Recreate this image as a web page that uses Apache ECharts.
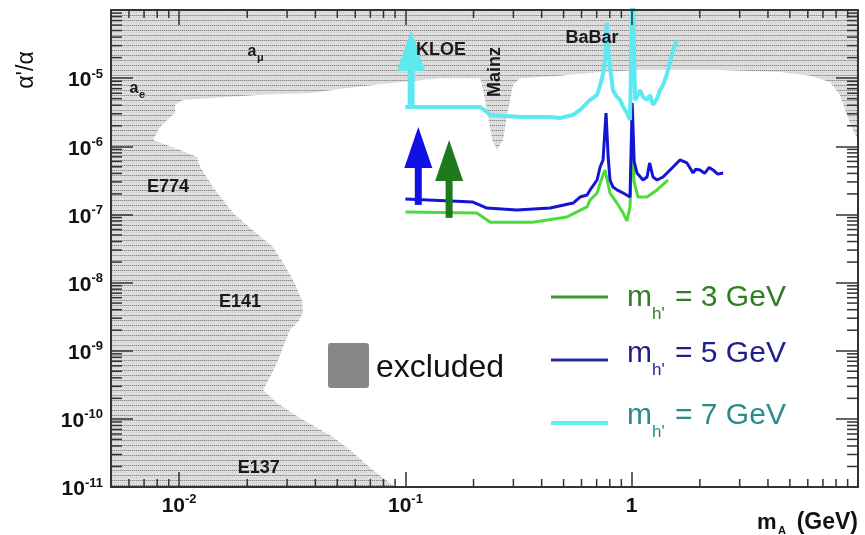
<!DOCTYPE html>
<html>
<head>
<meta charset="utf-8">
<script src="https://cdn.jsdelivr.net/npm/echarts@6/dist/echarts.min.js"></script>
<style>
html, body { margin: 0; padding: 0; background: #fff; }
#chart { width: 865px; height: 535px; }
</style>
</head>
<body>
<div id="chart"></div>
<script>
// axis ranges
const xMin = 0.005, xMax = 10;
const yMin = 1e-11, yMax = 1e-4;

// minor tick values (2..9 in every decade)
const minorX = [0.006, 0.007, 0.008, 0.009,
  0.02, 0.03, 0.04, 0.05, 0.06, 0.07, 0.08, 0.09,
  0.2, 0.3, 0.4, 0.5, 0.6, 0.7, 0.8, 0.9,
  2, 3, 4, 5, 6, 7, 8, 9];
const minorY = [2e-11, 3e-11, 4e-11, 5e-11, 6e-11, 7e-11, 8e-11, 9e-11,
  2e-10, 3e-10, 4e-10, 5e-10, 6e-10, 7e-10, 8e-10, 9e-10,
  2e-9, 3e-9, 4e-9, 5e-9, 6e-9, 7e-9, 8e-9, 9e-9,
  2e-8, 3e-8, 4e-8, 5e-8, 6e-8, 7e-8, 8e-8, 9e-8,
  2e-7, 3e-7, 4e-7, 5e-7, 6e-7, 7e-7, 8e-7, 9e-7,
  2e-6, 3e-6, 4e-6, 5e-6, 6e-6, 7e-6, 8e-6, 9e-6,
  2e-5, 3e-5, 4e-5, 5e-5, 6e-5, 7e-5, 8e-5, 9e-5];

// excluded region outline (top strip, BaBar/KLOE/Mainz, a_mu, a_e, E774, E141, E137)
const exclX = [0.005, 10, 10, 9.5, 8.94, 8.32, 7.52, 6.14, 4.52, 2.456, 1.634, 1.088, 0.725, 0.482,
  0.321, 0.299, 0.284, 0.270, 0.254, 0.242, 0.229, 0.218, 0.214, 0.142, 0.0947, 0.0569, 0.0379,
  0.0221, 0.0104, 0.0096, 0.0096, 0.00885, 0.00824, 0.00767, 0.0101, 0.0120, 0.0124, 0.0141,
  0.0173, 0.0216, 0.0260, 0.0288, 0.0319, 0.0349, 0.0353, 0.0335, 0.0309, 0.0288, 0.0271,
  0.0252, 0.0235, 0.0271, 0.0342, 0.0479, 0.0569, 0.0719, 0.0900, 0.005];
const exclY = [1e-4, 1e-4, 1.24e-6, 1.73e-6, 2.88e-6, 5.66e-6, 8.8e-6, 1.08e-5, 1.23e-5, 1.32e-5, 1.32e-5, 1.32e-5, 1.23e-5, 1.08e-5,
  1.0e-5, 7.9e-6, 3.41e-6, 1.24e-6, 8.8e-7, 1.24e-6, 3.41e-6, 7.9e-6, 1.0e-5, 1.0e-5, 8.8e-6, 7.2e-6, 6.05e-6,
  5.66e-6, 4.79e-6, 4.04e-6, 3.08e-6, 2.43e-6, 1.92e-6, 1.24e-6, 8.8e-7, 6.97e-7, 4.97e-7, 2.53e-7,
  1.05e-7, 5.52e-8, 3.33e-8, 1.94e-8, 1.09e-8, 5.55e-9, 3.57e-9, 2.64e-9, 2.01e-9, 1.13e-9, 6.6e-10,
  4.1e-10, 2.65e-10, 1.71e-10, 1.03e-10, 5.4e-11, 3.49e-11, 1.78e-11, 1e-11, 1e-11];

// m_h' = 3 GeV
const h3X = [0.1, 0.207, 0.237, 0.366, 0.518, 0.635, 0.655, 0.703, 0.725, 0.762, 0.802, 0.861,
  0.916, 0.953, 0.983, 1.005, 1.025, 1.066, 1.169, 1.294, 1.447];
const h3Y = [1.09e-7, 1.05e-7, 7.7e-8, 7.7e-8, 9.2e-8, 1.29e-7, 1.63e-7, 2.06e-7, 2.89e-7, 4.49e-7, 2.06e-7, 1.47e-7,
  1.05e-7, 8e-8, 1.29e-7, 1.5e-6, 3e-7, 1.8e-7, 1.8e-7, 2.29e-7, 3.2e-7];

// m_h' = 5 GeV
const h5X = [0.1, 0.199, 0.229, 0.311, 0.436, 0.551, 0.591, 0.635, 0.655, 0.703, 0.725, 0.747, 0.77,
  0.787, 0.802, 0.826, 0.861, 0.916, 0.983, 1.005, 1.025, 1.055, 1.122, 1.169, 1.2, 1.242, 1.294,
  1.375, 1.433, 1.523, 1.634, 1.754, 1.867, 1.92, 2.005, 2.1, 2.2, 2.288, 2.4, 2.535];
const h5Y = [1.69e-7, 1.52e-7, 1.24e-7, 1.16e-7, 1.24e-7, 1.47e-7, 1.8e-7, 1.93e-7, 2.29e-7, 3.2e-7, 4.97e-7, 6.3e-7, 3.08e-6,
  6.97e-7, 3.2e-7, 2.53e-7, 2.29e-7, 2.06e-7, 1.8e-7, 4.32e-6, 6e-7, 4.06e-7, 3.2e-7, 3.54e-7, 5.69e-7, 3.54e-7, 3.2e-7,
  3.54e-7, 4.06e-7, 4.97e-7, 6.3e-7, 5.69e-7, 4.06e-7, 4.6e-7, 4.49e-7, 4.0e-7, 4.9e-7, 4.49e-7, 3.9e-7, 4.06e-7];

// m_h' = 7 GeV
const h7X = [0.1, 0.214, 0.229, 0.237, 0.321, 0.436, 0.482, 0.551, 0.591, 0.655, 0.703, 0.725, 0.747,
  0.762, 0.778, 0.787, 0.802, 0.826, 0.861, 0.888, 0.916, 0.953, 0.983, 1.01, 1.035, 1.066, 1.088,
  1.122, 1.169, 1.205, 1.242, 1.294, 1.334, 1.375, 1.433, 1.523, 1.586];
const h7Y = [3.77e-6, 3.77e-6, 3.19e-6, 2.88e-6, 2.69e-6, 2.69e-6, 2.6e-6, 2.88e-6, 3.41e-6, 4.79e-6, 5.66e-6, 7.9e-6, 1.15e-5,
  1.85e-5, 6.45e-5, 2.6e-5, 1.46e-5, 6.7e-6, 5.3e-6, 4.79e-6, 3.8e-6, 3.08e-6, 2.43e-6, 3e-4, 4.79e-6, 5.66e-6, 6.7e-6,
  5.3e-6, 4.79e-6, 5.66e-6, 4.04e-6, 5.0e-6, 6.7e-6, 7.9e-6, 1.15e-5, 2.59e-5, 3.63e-5];

// arrows at the low-mass end (7, 5, 3 GeV)
const arrowX = [0.106, 0.114, 0.156];
const arrowFrom = [3.77e-6, 1.38e-7, 8.9e-8];
const arrowTo = [5.1e-5, 1.92e-6, 1.24e-6];
const arrowColor = ['#5ee8ef', '#1111e6', '#1d7a1d'];

// experiment labels
const annoText = ['a', 'a', 'E774', 'E141', 'E137', 'KLOE', 'Mainz', 'BaBar'];
const annoSub = ['\u03bc', 'e', '', '', '', '', '', ''];
const annoX = [0.0210, 0.00632, 0.00893, 0.0186, 0.0225, 0.1436, 0.249, 0.668];
const annoY = [2.42e-5, 6.93e-6, 2.53e-7, 5.19e-9, 1.9e-11, 2.59e-5, 1.23e-5, 3.88e-5];
const annoRot = [0, 0, 0, 0, 0, 0, 90, 0];

const FONT = "'Liberation Sans', Arial, sans-serif";

function zip(xs, ys) { return xs.map((x, i) => [x, ys[i]]); }

// hatched grey texture for excluded areas
function makeHatch() {
  const c = document.createElement('canvas');
  c.width = 6; c.height = 5;
  const g = c.getContext('2d');
  g.fillStyle = '#dfdfdf';
  g.fillRect(0, 0, 6, 5);
  for (let i = 0; i < 6; i++) {
    g.fillStyle = i % 2 ? '#bdbdbd' : '#8a8a8a';
    g.fillRect(i, 0, 1, 1);
  }
  g.fillStyle = '#c8c8c8';
  g.fillRect(1, 2, 1, 1);
  g.fillRect(4, 2, 1, 1);
  return c;
}
const hatch = makeHatch();

function powLabel(v, hideExp) {
  const e = Math.log10(v);
  const r = Math.round(e);
  if (Math.abs(e - r) > 1e-6 || r === hideExp) return '';
  if (r === 0) return '{b|1}';
  return '{b|10}{s|' + r + '}';
}
const labelRich = {
  b: { fontSize: 21, lineHeight: 21, fontWeight: 'bold', fontFamily: FONT, color: '#111', padding: [5, 0, 0, 0] },
  s: { fontSize: 13, lineHeight: 13, fontWeight: 'bold', fontFamily: FONT, color: '#111', verticalAlign: 'top' }
};

function logAxis(min, max, pos, len, showLabel, fmt, margin) {
  return {
    type: 'log', logBase: 10, min: min, max: max, position: pos, z: 8,
    axisLine: { show: true, lineStyle: { color: '#333', width: 2 } },
    axisTick: { show: true, inside: true, length: len, lineStyle: { color: '#333', width: 1.5 } },
    axisLabel: { show: showLabel, formatter: fmt, rich: labelRich, margin: margin },
    splitLine: { show: false },
    minorTick: { show: false }
  };
}

function renderExcluded(params, api) {
  const pts = exclX.map((x, i) => api.coord([x, exclY[i]]));
  return { type: 'polygon', shape: { points: pts },
    style: { fill: { image: hatch, repeat: 'repeat' }, stroke: null } };
}

function renderMinorX(params, api) {
  const cs = params.coordSys;
  const px = api.coord([api.value(0), yMin])[0];
  const b = cs.y + cs.height, t = cs.y;
  const st = { stroke: '#333', lineWidth: 1.5 };
  return { type: 'group', children: [
    { type: 'line', shape: { x1: px, y1: b, x2: px, y2: b - 8 }, style: st },
    { type: 'line', shape: { x1: px, y1: t, x2: px, y2: t + 8 }, style: st }
  ] };
}

function renderMinorY(params, api) {
  const cs = params.coordSys;
  const py = api.coord([xMin, api.value(1)])[1];
  const l = cs.x, r = cs.x + cs.width;
  const st = { stroke: '#333', lineWidth: 1.5 };
  return { type: 'group', children: [
    { type: 'line', shape: { x1: l, y1: py, x2: l + 11, y2: py }, style: st },
    { type: 'line', shape: { x1: r, y1: py, x2: r - 11, y2: py }, style: st }
  ] };
}

function renderArrow(params, api) {
  const i = params.dataIndex;
  const base = api.coord([api.value(0), api.value(1)]);
  const tip = api.coord([api.value(0), api.value(2)]);
  const c = arrowColor[i];
  const headLen = 41, half = 14;
  return { type: 'group', children: [
    { type: 'line', shape: { x1: base[0], y1: base[1], x2: tip[0], y2: tip[1] + headLen - 2 },
      style: { stroke: c, lineWidth: 7 } },
    { type: 'polygon', shape: { points: [[tip[0], tip[1]], [tip[0] - half, tip[1] + headLen], [tip[0] + half, tip[1] + headLen]] },
      style: { fill: c } }
  ] };
}

function renderAnno(params, api) {
  const i = params.dataIndex;
  const p = api.coord([api.value(0), api.value(1)]);
  const main = {
    type: 'text', x: p[0], y: p[1], rotation: annoRot[i] * Math.PI / 180,
    style: { text: annoText[i], font: 'bold ' + (annoSub[i] ? 16 : 18) + 'px ' + FONT, fill: '#1a1a1a',
      align: 'center', verticalAlign: 'middle', textAlign: 'center', textVerticalAlign: 'middle' }
  };
  if (!annoSub[i]) return main;
  return { type: 'group', children: [main, {
    type: 'text', x: p[0] + 5, y: p[1] + 6,
    style: { text: annoSub[i], font: 'bold 11px ' + FONT, fill: '#1a1a1a',
      align: 'left', verticalAlign: 'middle', textAlign: 'left', textVerticalAlign: 'middle' }
  }] };
}

function txt(x, y, text, size, color, weight, align, rot) {
  return { type: 'text', x: x, y: y, rotation: rot || 0, silent: true,
    style: { text: text, font: (weight || 'normal') + ' ' + size + 'px ' + FONT, fill: color,
      align: align || 'left', verticalAlign: 'middle', textAlign: align || 'left', textVerticalAlign: 'middle' } };
}

const legendRows = [
  { y: 297, ty: 297.7, color: '#3f9a30', tcol: '#2f7f22', w: 3, val: '= 3 GeV' },
  { y: 360, ty: 353.7, color: '#2a2a9e', tcol: '#1f1f8a', w: 3, val: '= 5 GeV' },
  { y: 423, ty: 415.7, color: '#5ef0f5', tcol: '#2b8a8a', w: 4, val: '= 7 GeV' }
];
const graphics = [];
legendRows.forEach(r => {
  graphics.push({ type: 'line', silent: true, shape: { x1: 551, y1: r.y, x2: 608, y2: r.y }, style: { stroke: r.color, lineWidth: r.w } });
  graphics.push(txt(627, r.ty, 'm', 30, r.tcol));
  graphics.push(txt(652, r.ty + 17, "h'", 17, r.tcol));
  graphics.push(txt(675, r.ty, r.val, 30, r.tcol));
});
graphics.push({ type: 'rect', silent: true, shape: { x: 328, y: 343, width: 41, height: 45, r: 3 }, style: { fill: '#878787' } });
graphics.push(txt(376, 368, 'excluded', 32, '#111'));
graphics.push(txt(757, 523, 'm', 22, '#111', 'bold'));
graphics.push(txt(778, 531, 'A', 11, '#111', 'bold'));
graphics.push(txt(858, 523, '(GeV)', 23, '#111', 'bold', 'right'));
graphics.push(txt(27, 70, "\u03b1'/\u03b1", 23, '#111', 'normal', 'center', Math.PI / 2));

const chart = echarts.init(document.getElementById('chart'), null, { renderer: 'canvas' });
chart.setOption({
  animation: false,
  backgroundColor: '#fff',
  grid: { left: 111, right: 7, top: 10, bottom: 48 },
  xAxis: [
    logAxis(xMin, xMax, 'bottom', 15, true, v => powLabel(v, 1), 6),
    logAxis(xMin, xMax, 'top', 15, false)
  ],
  yAxis: [
    logAxis(yMin, yMax, 'left', 22, true, v => powLabel(v, -4), 8),
    logAxis(yMin, yMax, 'right', 22, false)
  ],
  graphic: { elements: graphics },
  series: [
    { name: 'excluded', type: 'custom', z: 1, silent: true, renderItem: renderExcluded,
      data: [[exclX[0], exclY[0]]], itemStyle: { color: '#878787' } },
    { name: "m_h' = 3 GeV", type: 'line', z: 3, silent: true, showSymbol: false, data: zip(h3X, h3Y),
      lineStyle: { color: '#4cdc3a', width: 3 } },
    { name: "m_h' = 5 GeV", type: 'line', z: 4, silent: true, showSymbol: false, data: zip(h5X, h5Y),
      lineStyle: { color: '#1414d4', width: 3 } },
    { name: "m_h' = 7 GeV", type: 'line', z: 5, silent: true, showSymbol: false, data: zip(h7X, h7Y),
      lineStyle: { color: '#5ee8ef', width: 4 } },
    { type: 'custom', z: 6, silent: true, renderItem: renderArrow,
      data: arrowX.map((x, i) => [x, arrowFrom[i], arrowTo[i]]) },
    { type: 'custom', z: 7, silent: true, renderItem: renderAnno, data: zip(annoX, annoY) },
    { type: 'custom', z: 9, silent: true, renderItem: renderMinorX, data: minorX.map(v => [v, yMin]) },
    { type: 'custom', z: 9, silent: true, renderItem: renderMinorY, data: minorY.map(v => [xMin, v]) }
  ]
});
</script>
</body>
</html>
